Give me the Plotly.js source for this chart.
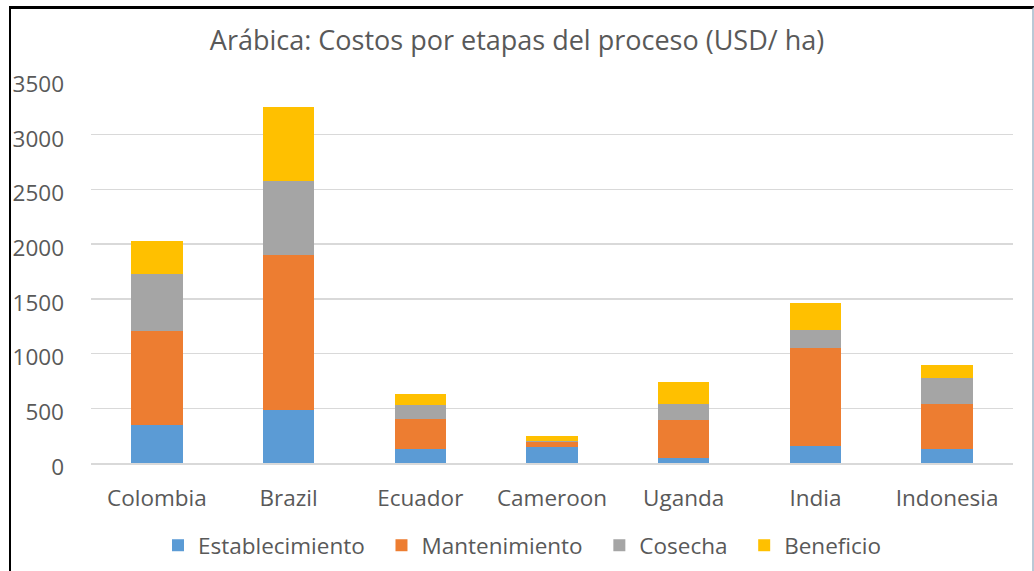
<!DOCTYPE html>
<html>
<head>
<meta charset="utf-8">
<script src="https://cdn.plot.ly/plotly-3.0.1.min.js"></script>
<style>
  html, body { margin: 0; padding: 0; background: #fff; }
  #chart { width: 1034px; height: 571px; }
  #frame { position: absolute; left: 9px; top: 6px; width: 1021px; height: 570px;
           border-left: 2px solid #000; border-top: 3px solid #000; border-right: 3px solid #b9c9d6;
           pointer-events: none; }
</style>
</head>
<body>
<div id="chart"></div>
<div id="frame"></div>
<script>
const categories = ["Colombia", "Brazil", "Ecuador", "Cameroon", "Uganda", "India", "Indonesia"];
const establecimiento = [350, 485, 125, 150, 50, 155, 130];
const mantenimiento   = [855, 1420, 280, 40, 340, 900, 410];
const cosecha         = [525, 670, 125, 15, 145, 165, 235];
const beneficio       = [300, 675, 105, 40, 205, 240, 125];
const seriesNames = ["Establecimiento", "Mantenimiento", "Cosecha", "Beneficio"];
const seriesColors = ["#5b9bd5", "#ed7d31", "#a5a5a5", "#ffc000"];
const yTicks = [0, 500, 1000, 1500, 2000, 2500, 3000, 3500];

const values = [establecimiento, mantenimiento, cosecha, beneficio];
const pad = "\u00a0\u00a0";
const traces = values.map((v, i) => ({
  type: "bar",
  name: seriesNames[i] + pad,
  x: categories,
  y: v,
  marker: { color: seriesColors[i], line: { width: 0 } },
  hoverinfo: "x+y"
}));

const font = { family: "Open Sans, sans-serif", size: 22.5, color: "#595959" };

const layout = {
  width: 1034, height: 571,
  barmode: "stack",
  bargap: 0.61,
  paper_bgcolor: "#ffffff",
  plot_bgcolor: "#ffffff",
  margin: { l: 91, r: 21, t: 80, b: 108, pad: 0, autoexpand: false },
  font: font,
  title: {
    text: "Arábica: Costos por etapas del proceso (USD/ ha)",
    font: { family: "Open Sans, sans-serif", size: 27, color: "#595959" },
    x: 0.5, xanchor: "center",
    yref: "container", y: 1 - 41 / 571, yanchor: "middle"
  },
  xaxis: {
    type: "category",
    showgrid: false,
    showline: true, linecolor: "#d9d9d9", linewidth: 1.5,
    ticks: "", ticklabelstandoff: 14,
    tickfont: font
  },
  yaxis: {
    range: [0, 3500],
    tickvals: yTicks,
    ticktext: yTicks.map(String),
    showgrid: true, gridcolor: "#d9d9d9", gridwidth: 1.5,
    zeroline: false, showline: false,
    ticks: "", ticklabelstandoff: 26, ticklabelshift: 4,
    tickfont: font
  },
  legend: {
    orientation: "h",
    x: (158 - 91) / 922, xanchor: "left",
    y: -(545 - 462.5) / 382.5, yanchor: "middle",
    font: font,
    traceorder: "normal",
    itemclick: false
  },
  showlegend: true
};

Plotly.newPlot("chart", traces, layout, { displayModeBar: false, staticPlot: true });
</script>
</body>
</html>
